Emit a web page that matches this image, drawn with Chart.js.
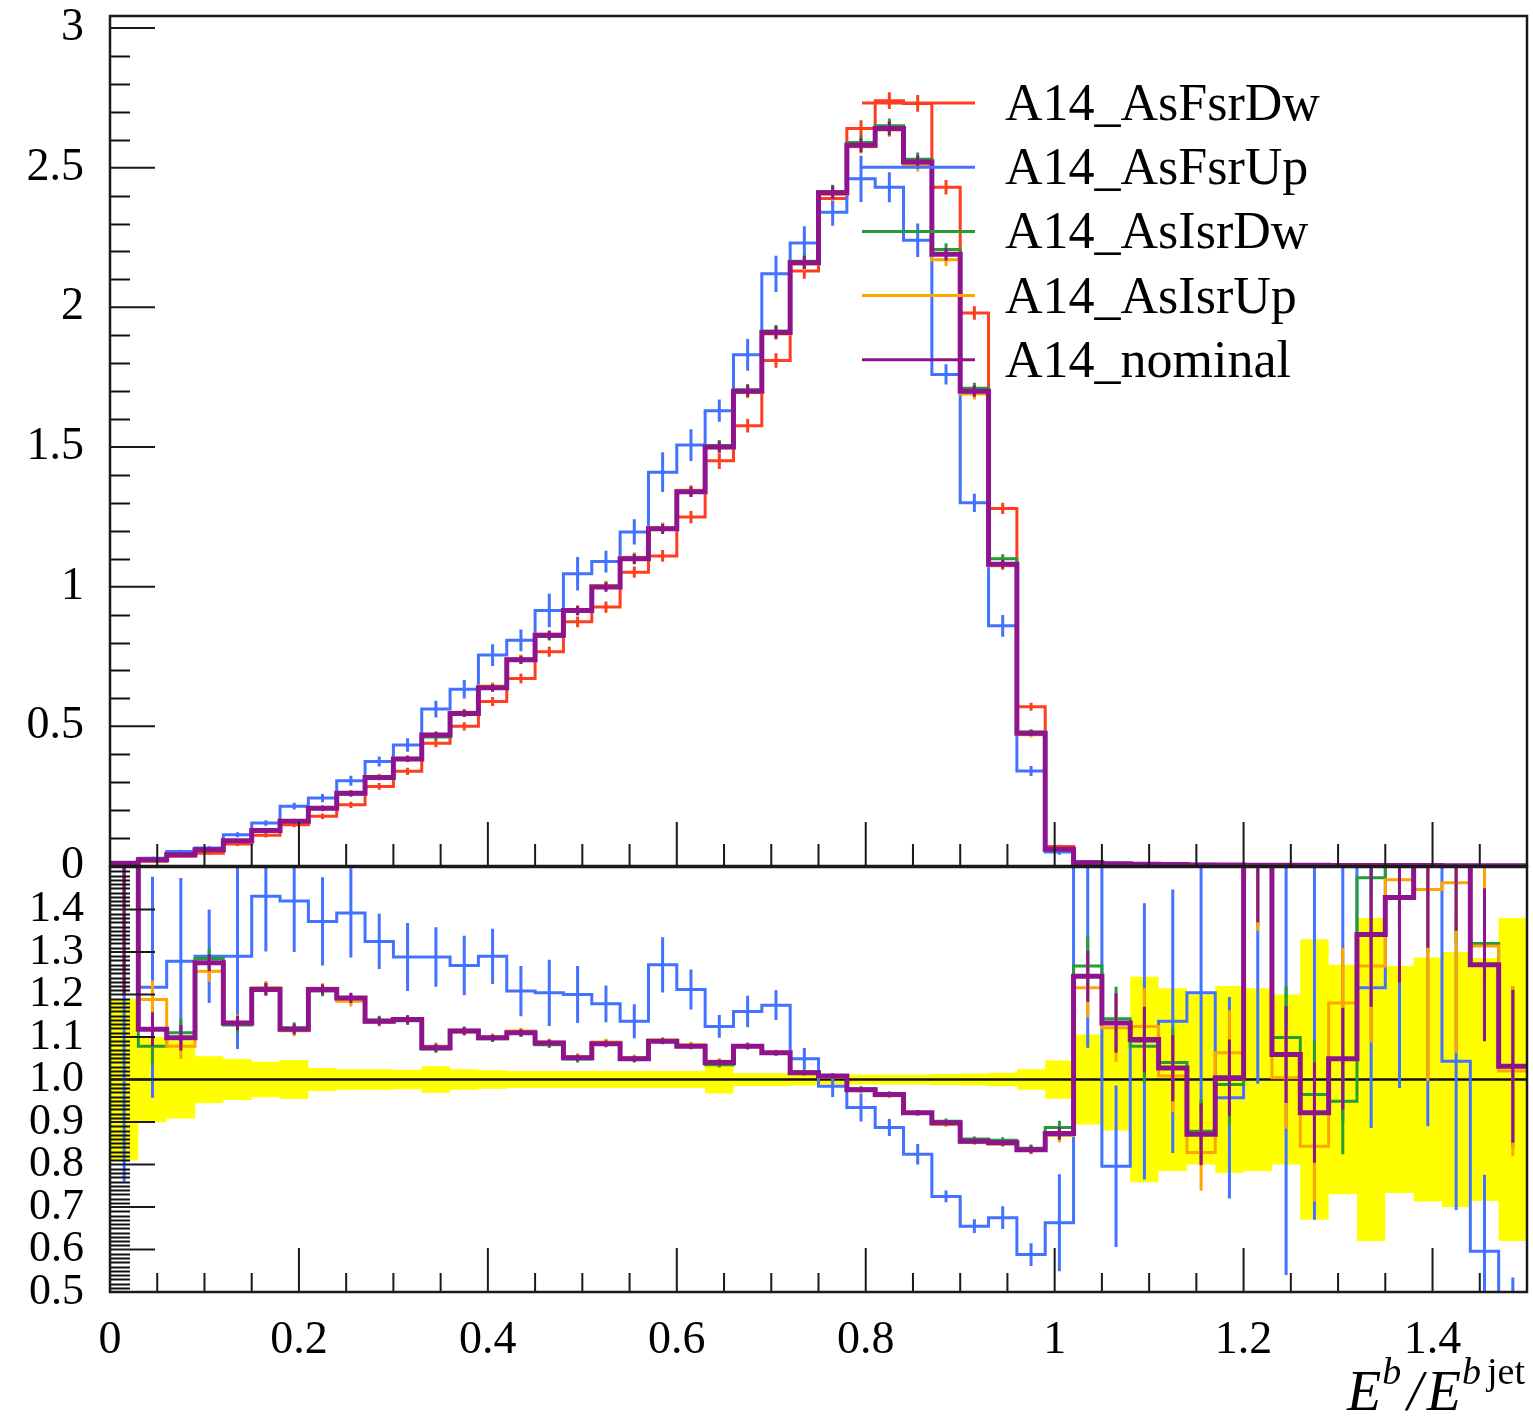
<!DOCTYPE html>
<html>
<head>
<meta charset="utf-8">
<script src="https://cdn.jsdelivr.net/npm/chart.js@4.4.1/dist/chart.umd.min.js"></script>
<style>
html,body{margin:0;padding:0;background:#fff;overflow:hidden;width:1533px;height:1421px;}
canvas{position:absolute;left:0;}
#topc{top:0;}
#botc{top:860px;}
</style>
</head>
<body>
<canvas id="topc" width="1533" height="900"></canvas>
<canvas id="botc" width="1533" height="561"></canvas>
<script>
// ---------------- data ----------------
const BIN_EDGES = [0, 0.03, 0.06, 0.09, 0.12, 0.15, 0.18, 0.21, 0.24, 0.27, 0.30, 0.33, 0.36, 0.39, 0.42, 0.45, 0.48,
  0.51, 0.54, 0.57, 0.60, 0.63, 0.66, 0.69, 0.72, 0.75, 0.78, 0.81, 0.84, 0.87, 0.90, 0.93, 0.96, 0.99, 1.02, 1.05,
  1.08, 1.11, 1.14, 1.17, 1.20, 1.23, 1.26, 1.29, 1.32, 1.35, 1.38, 1.41, 1.44, 1.47, 1.50];

const SERIES_NAMES = ['A14_AsFsrDw', 'A14_AsFsrUp', 'A14_AsIsrDw', 'A14_AsIsrUp', 'A14_nominal'];
const X_TICK_LABELS = ['0', '0.2', '0.4', '0.6', '0.8', '1', '1.2', '1.4'];
const X_TITLE = ['E', 'b', '/', 'E', 'b', 'jet'];

// upper panel: normalised distributions
const TOP_FSRDW = [0.008, 0.017, 0.035, 0.046, 0.079, 0.110, 0.148, 0.178, 0.219, 0.285,
  0.339, 0.439, 0.500, 0.589, 0.671, 0.767, 0.874, 0.927, 1.052, 1.110,
  1.249, 1.451, 1.576, 1.810, 2.130, 2.390, 2.640, 2.740, 2.730, 2.430,
  1.980, 1.280, 0.570, 0.070, 0.012, 0.008, 0.006, 0.005, 0.004, 0.003,
  0.003, 0.003, 0.002, 0.002, 0.002, 0.002, 0.001, 0.001, 0.001, 0.001];
const TOP_FSRUP = [0.012, 0.028, 0.052, 0.064, 0.112, 0.154, 0.214, 0.243, 0.305, 0.374,
  0.433, 0.562, 0.633, 0.755, 0.808, 0.915, 1.046, 1.090, 1.196, 1.410,
  1.507, 1.630, 1.830, 2.120, 2.230, 2.340, 2.460, 2.430, 2.240, 1.760,
  1.300, 0.860, 0.340, 0.050, 0.015, 0.010, 0.008, 0.007, 0.006, 0.005,
  0.005, 0.004, 0.004, 0.003, 0.003, 0.002, 0.002, 0.002, 0.001, 0.001];
const TOP_ISRDW = [0.009, 0.020, 0.042, 0.057, 0.089, 0.128, 0.161, 0.205, 0.258, 0.318,
  0.385, 0.462, 0.548, 0.640, 0.740, 0.822, 0.913, 1.003, 1.098, 1.210,
  1.342, 1.505, 1.705, 1.915, 2.165, 2.415, 2.590, 2.650, 2.530, 2.207,
  1.710, 1.100, 0.480, 0.062, 0.013, 0.008, 0.006, 0.005, 0.004, 0.004,
  0.003, 0.003, 0.003, 0.002, 0.002, 0.002, 0.002, 0.001, 0.001, 0.001];
const TOP_ISRUP = [0.011, 0.023, 0.039, 0.056, 0.091, 0.126, 0.158, 0.209, 0.262, 0.320,
  0.386, 0.470, 0.550, 0.644, 0.742, 0.830, 0.918, 1.004, 1.105, 1.212,
  1.345, 1.497, 1.695, 1.905, 2.155, 2.405, 2.575, 2.635, 2.510, 2.170,
  1.690, 1.075, 0.470, 0.058, 0.012, 0.008, 0.006, 0.005, 0.004, 0.004,
  0.003, 0.003, 0.003, 0.002, 0.002, 0.002, 0.002, 0.001, 0.001, 0.001];
const TOP_NOMINAL = [0.010, 0.022, 0.040, 0.058, 0.090, 0.127, 0.160, 0.207, 0.260, 0.317,
  0.383, 0.469, 0.546, 0.638, 0.738, 0.826, 0.915, 0.999, 1.100, 1.207,
  1.340, 1.500, 1.700, 1.910, 2.160, 2.410, 2.580, 2.640, 2.520, 2.190,
  1.700, 1.080, 0.475, 0.060, 0.012, 0.008, 0.006, 0.005, 0.004, 0.004,
  0.003, 0.003, 0.003, 0.002, 0.002, 0.002, 0.002, 0.001, 0.001, 0.001];

const ERR_FSRDW = [0.003, 0.004, 0.005, 0.006, 0.007, 0.008, 0.009, 0.010, 0.011, 0.012,
  0.013, 0.014, 0.015, 0.016, 0.017, 0.018, 0.019, 0.020, 0.020, 0.021,
  0.022, 0.030, 0.024, 0.026, 0.028, 0.030, 0.030, 0.030, 0.030, 0.026,
  0.024, 0.020, 0.014, 0.006, 0.002, 0.002, 0.002, 0.002, 0.002, 0.001,
  0.001, 0.001, 0.001, 0.001, 0.001, 0.001, 0.001, 0.001, 0.001, 0.001];
const ERR_FSRUP = [0.004, 0.005, 0.006, 0.007, 0.009, 0.010, 0.012, 0.015, 0.018, 0.018,
  0.024, 0.030, 0.033, 0.039, 0.039, 0.060, 0.060, 0.039, 0.045, 0.071,
  0.057, 0.040, 0.057, 0.065, 0.060, 0.048, 0.083, 0.054, 0.060, 0.036,
  0.033, 0.039, 0.018, 0.010, 0.004, 0.003, 0.003, 0.003, 0.003, 0.002,
  0.002, 0.002, 0.002, 0.002, 0.002, 0.002, 0.001, 0.001, 0.001, 0.001];
const ERR_ISRDW = [0.002, 0.003, 0.004, 0.005, 0.006, 0.007, 0.008, 0.009, 0.010, 0.010,
  0.011, 0.012, 0.013, 0.014, 0.015, 0.015, 0.016, 0.017, 0.018, 0.018,
  0.019, 0.020, 0.021, 0.022, 0.023, 0.024, 0.025, 0.026, 0.024, 0.022,
  0.020, 0.016, 0.010, 0.004, 0.002, 0.001, 0.001, 0.001, 0.001, 0.001,
  0.001, 0.001, 0.001, 0.001, 0.001, 0.001, 0.001, 0.001, 0.001, 0.001];
const ERR_ISRUP = [0.002, 0.003, 0.004, 0.005, 0.006, 0.007, 0.008, 0.009, 0.010, 0.010,
  0.011, 0.012, 0.013, 0.014, 0.015, 0.015, 0.016, 0.017, 0.018, 0.018,
  0.019, 0.020, 0.021, 0.022, 0.023, 0.024, 0.025, 0.025, 0.024, 0.022,
  0.020, 0.016, 0.010, 0.004, 0.002, 0.001, 0.001, 0.001, 0.001, 0.001,
  0.001, 0.001, 0.001, 0.001, 0.001, 0.001, 0.001, 0.001, 0.001, 0.001];
const ERR_NOMINAL = [0.002, 0.003, 0.004, 0.005, 0.006, 0.007, 0.008, 0.009, 0.010, 0.010,
  0.011, 0.012, 0.013, 0.014, 0.015, 0.015, 0.016, 0.017, 0.018, 0.018,
  0.019, 0.020, 0.021, 0.022, 0.023, 0.024, 0.025, 0.025, 0.024, 0.022,
  0.020, 0.016, 0.010, 0.004, 0.002, 0.001, 0.001, 0.001, 0.001, 0.001,
  0.001, 0.001, 0.001, 0.001, 0.001, 0.001, 0.001, 0.001, 0.001, 0.001];

// lower panel: ratio to A14_AsFsrDw
const RATIO_FSRUP = [1.600, 1.217, 1.278, 1.290, 1.290, 1.431, 1.420, 1.372, 1.392, 1.325,
  1.288, 1.288, 1.268, 1.290, 1.208, 1.204, 1.200, 1.178, 1.137, 1.270,
  1.212, 1.125, 1.160, 1.175, 1.049, 0.984, 0.934, 0.887, 0.824, 0.725,
  0.655, 0.675, 0.588, 0.663, 1.700, 0.796, 1.090, 1.137, 1.204, 0.957,
  1.620, 1.700, 1.700, 1.650, 1.216, 1.750, 1.650, 1.043, 0.596, 0.400];
const RATIO_ISRDW = [1.700, 1.078, 1.110, 1.285, 1.128, 1.215, 1.122, 1.208, 1.190, 1.140,
  1.138, 1.072, 1.116, 1.096, 1.108, 1.082, 1.048, 1.086, 1.047, 1.092,
  1.080, 1.035, 1.080, 1.062, 1.018, 1.008, 0.978, 0.966, 0.922, 0.902,
  0.860, 0.857, 0.838, 0.887, 1.267, 1.143, 1.078, 1.040, 0.878, 0.988,
  1.700, 1.099, 0.965, 0.949, 1.475, 1.560, 1.750, 1.700, 1.320, 1.030];
const RATIO_ISRUP = [1.700, 1.188, 1.078, 1.255, 1.135, 1.216, 1.115, 1.215, 1.184, 1.135,
  1.142, 1.078, 1.112, 1.100, 1.114, 1.088, 1.054, 1.088, 1.052, 1.093,
  1.082, 1.043, 1.077, 1.064, 1.015, 1.006, 0.975, 0.962, 0.920, 0.894,
  0.852, 0.848, 0.833, 0.868, 1.216, 1.122, 1.125, 1.008, 0.828, 1.063,
  1.700, 1.004, 0.843, 1.180, 1.267, 1.470, 1.447, 1.463, 1.314, 1.020];
const RATIO_NOMINAL = [1.700, 1.118, 1.098, 1.275, 1.133, 1.212, 1.118, 1.212, 1.192, 1.137,
  1.141, 1.075, 1.114, 1.098, 1.110, 1.086, 1.051, 1.084, 1.049, 1.090,
  1.078, 1.040, 1.078, 1.063, 1.016, 1.008, 0.976, 0.965, 0.922, 0.898,
  0.855, 0.851, 0.835, 0.873, 1.243, 1.133, 1.094, 1.027, 0.871, 1.004,
  1.700, 1.059, 0.922, 1.049, 1.341, 1.428, 1.750, 1.720, 1.270, 1.031];

const RERR_FSRUP = [0.840, 0.260, 0.196, 0.110, 0.218, 0.130, 0.120, 0.104, 0.105, 0.065,
  0.080, 0.070, 0.070, 0.065, 0.059, 0.078, 0.067, 0.043, 0.040, 0.065,
  0.047, 0.027, 0.037, 0.035, 0.025, 0.025, 0.033, 0.020, 0.024, 0.014,
  0.016, 0.027, 0.027, 0.114, 0.625, 0.190, 0.325, 0.310, 0.390, 0.237,
  0.630, 1.160, 1.030, 0.750, 0.330, 0.770, 0.760, 0.350, 0.180, 0.134];
const RERR_ISRDW = [0.500, 0.042, 0.032, 0.022, 0.018, 0.015, 0.013, 0.012, 0.012, 0.010,
  0.010, 0.009, 0.009, 0.008, 0.008, 0.008, 0.008, 0.008, 0.007, 0.007,
  0.007, 0.007, 0.007, 0.006, 0.006, 0.006, 0.006, 0.006, 0.006, 0.006,
  0.006, 0.007, 0.009, 0.016, 0.070, 0.075, 0.085, 0.080, 0.075, 0.095,
  0.340, 0.120, 0.125, 0.125, 0.180, 0.210, 0.450, 0.380, 0.190, 0.190];
const RERR_ISRUP = [0.500, 0.045, 0.030, 0.025, 0.018, 0.016, 0.013, 0.012, 0.012, 0.010,
  0.010, 0.009, 0.009, 0.008, 0.008, 0.008, 0.008, 0.008, 0.007, 0.007,
  0.007, 0.007, 0.007, 0.006, 0.006, 0.006, 0.006, 0.006, 0.006, 0.006,
  0.006, 0.007, 0.009, 0.016, 0.070, 0.080, 0.090, 0.085, 0.090, 0.100,
  0.350, 0.120, 0.130, 0.130, 0.180, 0.220, 0.450, 0.400, 0.200, 0.200];
const RERR_NOMINAL = [0.500, 0.040, 0.030, 0.020, 0.017, 0.015, 0.012, 0.012, 0.012, 0.010,
  0.010, 0.009, 0.009, 0.008, 0.008, 0.008, 0.008, 0.008, 0.007, 0.007,
  0.007, 0.007, 0.007, 0.006, 0.006, 0.006, 0.006, 0.006, 0.006, 0.006,
  0.006, 0.007, 0.009, 0.015, 0.060, 0.070, 0.077, 0.078, 0.073, 0.090,
  0.330, 0.114, 0.118, 0.120, 0.170, 0.200, 0.440, 0.370, 0.180, 0.180];

// relative statistical uncertainty of the reference (yellow band half-width)
const REF_BAND = [0.190, 0.100, 0.092, 0.055, 0.048, 0.042, 0.046, 0.027, 0.024, 0.024,
  0.023, 0.031, 0.024, 0.022, 0.020, 0.020, 0.020, 0.020, 0.020, 0.020,
  0.020, 0.033, 0.015, 0.015, 0.014, 0.012, 0.012, 0.012, 0.012, 0.013,
  0.014, 0.016, 0.024, 0.045, 0.106, 0.120, 0.242, 0.215, 0.200, 0.220,
  0.215, 0.200, 0.330, 0.270, 0.380, 0.267, 0.287, 0.300, 0.286, 0.380];

// ---------------- style ----------------
const COLORS = {
  fsrdw: 'rgb(255,62,32)',
  fsrup: 'rgb(66,114,255)',
  isrdw: 'rgb(38,156,52)',
  isrup: 'rgb(255,165,0)',
  nominal: 'rgb(142,20,142)'
};
const FONT = '"Liberation Serif", "DejaVu Serif", serif';

function stepPoints(values) {
  const pts = values.map((v, i) => ({ x: BIN_EDGES[i], y: v }));
  pts.push({ x: BIN_EDGES[values.length], y: values[values.length - 1] });
  return pts;
}

function histDataset(label, values, errors, color, width, order) {
  return {
    label, data: stepPoints(values), binValues: values, errors,
    borderColor: color, borderWidth: width, errWidth: 3,
    stepped: true, pointRadius: 0, fill: false, order
  };
}

function xTickLabel(v) {
  const idx = Math.round(v / 0.2);
  if (Math.abs(v - idx * 0.2) > 1e-6 || idx >= X_TICK_LABELS.length) return '';
  return X_TICK_LABELS[idx];
}

// ---------------- plugins ----------------
const errorBars = {
  id: 'errorBars',
  afterDatasetDraw(chart, args) {
    const ds = chart.data.datasets[args.index];
    if (!ds.errors) return;
    const { ctx, chartArea: a } = chart;
    const xs = chart.scales.x, ys = chart.scales.y;
    ctx.save();
    ctx.beginPath();
    ctx.rect(a.left, a.top, a.right - a.left, a.bottom - a.top);
    ctx.clip();
    ctx.strokeStyle = ds.borderColor;
    ctx.lineWidth = ds.errWidth;
    ctx.beginPath();
    ds.binValues.forEach((v, i) => {
      const e = ds.errors[i];
      if (!e) return;
      const xc = xs.getPixelForValue((BIN_EDGES[i] + BIN_EDGES[i + 1]) / 2);
      ctx.moveTo(xc, ys.getPixelForValue(v - e));
      ctx.lineTo(xc, ys.getPixelForValue(v + e));
    });
    ctx.stroke();
    ctx.restore();
  }
};

function makeAxisTicks(cfg) {
  return {
    id: 'axisTicks',
    afterDatasetsDraw(chart) {
      const { ctx, chartArea: a } = chart;
      const xs = chart.scales.x, ys = chart.scales.y;
      ctx.save();
      ctx.strokeStyle = '#1a1a1a';
      ctx.lineWidth = 2;
      ctx.beginPath();
      const xMaj = [], xMin = [], yMaj = [], yMin = [];
      for (let k = 0; k <= 30; k++) {
        const v = k * 0.05;
        if (k % 4 === 0) xMaj.push(v); else xMin.push(v);
      }
      const nY = Math.round((cfg.yMax - cfg.yMin) / cfg.yMinorStep);
      const ratio = Math.round(cfg.yMajorStep / cfg.yMinorStep);
      for (let k = 0; k <= nY; k++) {
        const v = cfg.yMin + k * cfg.yMinorStep;
        if (k % ratio === 0) yMaj.push(v); else yMin.push(v);
      }
      xMaj.forEach(v => { const p = xs.getPixelForValue(v); ctx.moveTo(p, a.bottom); ctx.lineTo(p, a.bottom - cfg.xMajLen); });
      xMin.forEach(v => { const p = xs.getPixelForValue(v); ctx.moveTo(p, a.bottom); ctx.lineTo(p, a.bottom - cfg.xMinLen); });
      yMaj.forEach(v => { const p = ys.getPixelForValue(v); ctx.moveTo(a.left, p); ctx.lineTo(a.left + cfg.yMajLen, p); });
      ctx.stroke();
      ctx.lineWidth = cfg.yMinWidth;
      ctx.strokeStyle = '#111';
      ctx.beginPath();
      yMin.forEach(v => { const p = Math.round(ys.getPixelForValue(v)) + 0.5; ctx.moveTo(a.left, p); ctx.lineTo(a.left + cfg.yMinLen, p); });
      ctx.stroke();
      ctx.restore();
    },
    afterDraw(chart) {
      const { ctx, chartArea: a } = chart;
      ctx.save();
      ctx.strokeStyle = '#1a1a1a';
      ctx.lineWidth = 2.5;
      ctx.strokeRect(a.left, a.top, a.right - a.left, a.bottom - a.top);
      ctx.restore();
    }
  };
}

const legendBox = {
  id: 'legendBox',
  afterDatasetsDraw(chart) {
    const ctx = chart.ctx;
    const keys = ['fsrdw', 'fsrup', 'isrdw', 'isrup', 'nominal'];
    ctx.save();
    ctx.font = '52px ' + FONT;
    ctx.textBaseline = 'alphabetic';
    ctx.textAlign = 'left';
    ctx.fillStyle = '#000';
    keys.forEach((k, i) => {
      const y = 103 + i * 64.2;
      ctx.strokeStyle = COLORS[k];
      ctx.lineWidth = 3;
      ctx.beginPath();
      ctx.moveTo(862, y);
      ctx.lineTo(975, y);
      ctx.stroke();
      ctx.fillText(SERIES_NAMES[i], 1005, y + 17);
    });
    ctx.restore();
  }
};

const axisTitle = {
  id: 'axisTitle',
  afterDraw(chart) {
    const ctx = chart.ctx;
    const base = chart.chartArea.bottom + 118;
    const big = 'italic 56px ' + FONT, sm = 'italic 38px ' + FONT, smUp = '38px ' + FONT;
    const parts = [
      { t: X_TITLE[0], f: big, dy: 0, gap: 0 },
      { t: X_TITLE[1], f: sm, dy: -26, gap: 1 },
      { t: X_TITLE[2], f: big, dy: 0, gap: 6 },
      { t: X_TITLE[3], f: big, dy: 0, gap: 4 },
      { t: X_TITLE[4], f: sm, dy: -26, gap: 1 },
      { t: X_TITLE[5], f: smUp, dy: -26, gap: 6 }
    ];
    ctx.save();
    ctx.fillStyle = '#000';
    ctx.textBaseline = 'alphabetic';
    let total = 0;
    parts.forEach(p => { ctx.font = p.f; p.w = ctx.measureText(p.t).width; total += p.w + p.gap; });
    let x = 1525 - total;
    parts.forEach(p => { x += p.gap; ctx.font = p.f; ctx.fillText(p.t, x, base + p.dy); x += p.w; });
    ctx.restore();
  }
};

// ---------------- upper chart ----------------
new Chart(document.getElementById('topc'), {
  type: 'line',
  data: {
    datasets: [
      histDataset(SERIES_NAMES[0], TOP_FSRDW, ERR_FSRDW, COLORS.fsrdw, 3, 5),
      histDataset(SERIES_NAMES[1], TOP_FSRUP, ERR_FSRUP, COLORS.fsrup, 3, 4),
      histDataset(SERIES_NAMES[2], TOP_ISRDW, ERR_ISRDW, COLORS.isrdw, 3, 3),
      histDataset(SERIES_NAMES[3], TOP_ISRUP, ERR_ISRUP, COLORS.isrup, 3, 2),
      histDataset(SERIES_NAMES[4], TOP_NOMINAL, ERR_NOMINAL, COLORS.nominal, 5, 1)
    ]
  },
  options: {
    responsive: false, animation: false, devicePixelRatio: 1,
    layout: { autoPadding: false, padding: { top: 16, right: 6, bottom: 34, left: 0 } },
    plugins: { legend: { display: false }, tooltip: { enabled: false } },
    scales: {
      x: { type: 'linear', min: 0, max: 1.5, bounds: 'data', display: false },
      y: {
        type: 'linear', min: 0, max: 3.043, bounds: 'data',
        grid: { display: false }, border: { display: false },
        ticks: {
          stepSize: 0.5, includeBounds: false, autoSkip: false, padding: 18, color: '#000',
          font: { family: FONT, size: 46 },
          callback: v => String(Math.round(v * 10) / 10)
        },
        afterFit: s => { s.width = 110; s.paddingTop = 0; s.paddingBottom = 0; }
      }
    }
  },
  plugins: [errorBars, makeAxisTicks({ yMin: 0, yMax: 3.0, yMinorStep: 0.1, yMajorStep: 0.5,
    xMajLen: 44, xMinLen: 22, yMajLen: 45, yMinLen: 20, yMinWidth: 2 }), legendBox]
});

// ---------------- lower chart ----------------
const bandHi = REF_BAND.map(b => 1 + b);
const bandLo = REF_BAND.map(b => 1 - b);

new Chart(document.getElementById('botc'), {
  type: 'line',
  data: {
    datasets: [
      { label: 'band+', data: stepPoints(bandHi), stepped: true, borderWidth: 0, borderColor: 'rgba(0,0,0,0)', pointRadius: 0, fill: false, order: 20 },
      { label: 'band-', data: stepPoints(bandLo), stepped: true, borderWidth: 0, borderColor: 'rgba(0,0,0,0)', pointRadius: 0, fill: '-1', backgroundColor: 'rgb(255,255,0)', order: 19 },
      { label: 'unity', data: [{ x: 0, y: 1 }, { x: 1.5, y: 1 }], borderColor: '#111', borderWidth: 2.5, pointRadius: 0, fill: false, order: 10 },
      histDataset(SERIES_NAMES[1], RATIO_FSRUP, RERR_FSRUP, COLORS.fsrup, 3, 4),
      histDataset(SERIES_NAMES[2], RATIO_ISRDW, RERR_ISRDW, COLORS.isrdw, 3, 3),
      histDataset(SERIES_NAMES[3], RATIO_ISRUP, RERR_ISRUP, COLORS.isrup, 3, 2),
      histDataset(SERIES_NAMES[4], RATIO_NOMINAL, RERR_NOMINAL, COLORS.nominal, 5, 1)
    ]
  },
  options: {
    responsive: false, animation: false, devicePixelRatio: 1,
    layout: { autoPadding: false, padding: { top: 7, right: 6, bottom: 0, left: 0 } },
    plugins: { legend: { display: false }, tooltip: { enabled: false } },
    scales: {
      x: {
        type: 'linear', min: 0, max: 1.5, bounds: 'data',
        grid: { display: false }, border: { display: false },
        ticks: {
          stepSize: 0.2, includeBounds: false, autoSkip: false, maxRotation: 0, padding: 13, color: '#000',
          font: { family: FONT, size: 46 },
          callback: v => xTickLabel(v)
        },
        afterFit: s => { s.height = 129; s.paddingLeft = 0; s.paddingRight = 0; }
      },
      y: {
        type: 'linear', min: 0.5, max: 1.5, bounds: 'data',
        grid: { display: false }, border: { display: false },
        ticks: {
          stepSize: 0.1, includeBounds: false, autoSkip: false, padding: 18, color: '#000',
          font: { family: FONT, size: 44 },
          callback: v => (Math.abs(v - 1.5) < 1e-6 ? '' : (Math.round(v * 10) / 10).toFixed(1))
        },
        afterFit: s => { s.width = 110; s.paddingTop = 0; s.paddingBottom = 0; }
      }
    }
  },
  plugins: [errorBars, makeAxisTicks({ yMin: 0.5, yMax: 1.5, yMinorStep: 0.01, yMajorStep: 0.1,
    xMajLen: 44, xMinLen: 19, yMajLen: 45, yMinLen: 20, yMinWidth: 2 }), axisTitle]
});
</script>
</body>
</html>
